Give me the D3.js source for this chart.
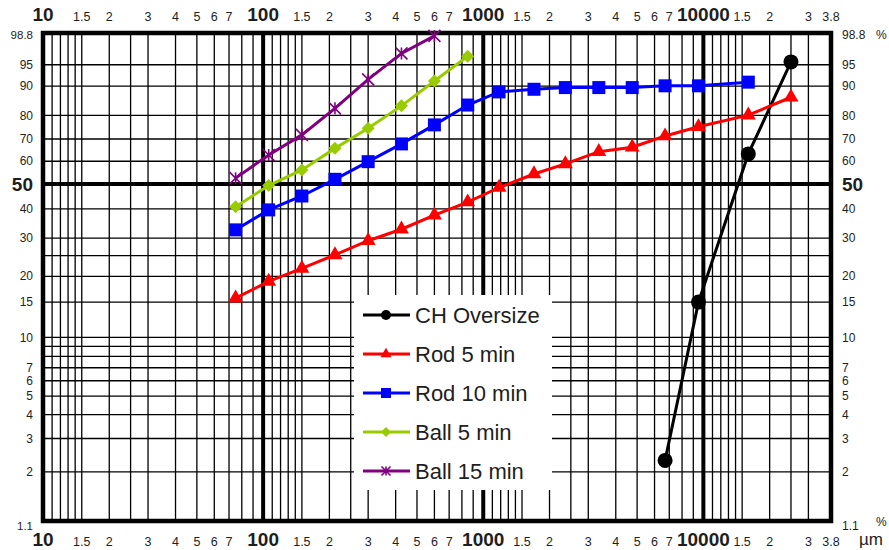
<!DOCTYPE html>
<html>
<head>
<meta charset="utf-8">
<script src="https://cdn.jsdelivr.net/npm/d3@7"></script>
<style>
body { margin: 0; background: #fff; }
text { font-family: "Liberation Sans", Arial, sans-serif; fill: #1e1e1e; }
</style>
</head>
<body>
<div class="chart"></div>
<script>
// Data (particle size in µm, cumulative passing in %)
const sieveSizes = [75, 106, 150, 212, 300, 425, 600, 850, 1180, 1700, 2360, 3350, 4750, 6700, 9500, 16000];

const chOversizeX = [6700, 9500, 16000, 25000];
const chOversize  = [2.3, 15.0, 63.3, 95.5];

const rod5X = sieveSizes.concat([25000]);
const rod5  = [15.7, 18.9, 21.8, 25.2, 29.2, 32.8, 37.7, 42.6, 48.5, 54.3, 58.8, 64.3, 66.3, 71.3, 75.3, 80.1, 86.6];

const rod10X = sieveSizes;
const rod10  = [32.6, 39.6, 45.0, 52.0, 59.8, 67.8, 76.1, 83.9, 88.3, 89.1, 89.6, 89.6, 89.6, 90.1, 90.1, 91.1];

const ball5X = sieveSizes.slice(0, 8);
const ball5  = [40.8, 49.3, 56.1, 65.8, 74.7, 83.6, 91.4, 96.4];

const ball15X = sieveSizes.slice(0, 7);
const ball15  = [52.5, 62.8, 71.8, 82.7, 91.8, 96.8, 98.6];

const seriesNames  = ["CH Oversize", "Rod 5 min", "Rod 10 min", "Ball 5 min", "Ball 15 min"];
const seriesColors = ["#000000", "#ff0000", "#0000ff", "#99cc00", "#800080"];
const seriesMarks  = ["circle", "triangle", "square", "diamond", "star"];

// axis ticks
const decades     = [10, 100, 1000, 10000];
const gridMults   = [1, 1.1, 1.2, 1.3, 1.4, 1.5, 2, 2.5, 3, 4, 5, 6, 7, 8, 9];
const labelMults  = [1, 1.5, 2, 3, 4, 5, 6, 7];
const xMin = 10, xMax = 38000;
const yGridVals   = [2, 3, 4, 5, 6, 7, 8, 9, 10, 15, 20, 25, 30, 40, 50, 60, 70, 80, 90, 95];
const yTickVals   = [1.1, 2, 3, 4, 5, 6, 7, 10, 15, 20, 30, 40, 50, 60, 70, 80, 90, 95, 98.8];
const yMin = 1.1, yMax = 98.8;

const W = 889, H = 550;
const plot = { left: 43, right: 831, top: 33, bottom: 521 };

const svg = d3.select(".chart").append("svg")
    .attr("width", W)
    .attr("height", H);

// RRSB scale: log x, ln(ln(1/(1-D))) y
const x = d3.scaleLog().domain([xMin, xMax]).range([plot.left, plot.right]);
const rr = p => Math.log(-Math.log(1 - p / 100));
const yLin = d3.scaleLinear().domain([rr(yMin), rr(yMax)]).range([plot.bottom, plot.top]);
const y = p => yLin(rr(p));

// grid
let xGrid = [];
decades.forEach(d => gridMults.forEach(m => {
    const v = d * m;
    if (v > xMin && v < xMax) xGrid.push(v);
}));

const grid = svg.append("g").attr("class", "grid");
grid.selectAll(".vx")
    .data(xGrid)
    .enter().append("line")
    .attr("x1", d => x(d)).attr("x2", d => x(d))
    .attr("y1", plot.top).attr("y2", plot.bottom)
    .attr("stroke", "#000")
    .attr("stroke-width", d => decades.includes(d) ? 4 : 1.3);

grid.selectAll(".hy")
    .data(yGridVals)
    .enter().append("line")
    .attr("x1", plot.left).attr("x2", plot.right)
    .attr("y1", d => y(d)).attr("y2", d => y(d))
    .attr("stroke", "#000")
    .attr("stroke-width", d => d === 50 ? 4 : 1.3);

svg.append("rect")
    .attr("x", plot.left).attr("y", plot.top)
    .attr("width", plot.right - plot.left)
    .attr("height", plot.bottom - plot.top)
    .attr("fill", "none")
    .attr("stroke", "#000")
    .attr("stroke-width", 4.5);

// x labels, top and bottom
let xTicks = [];
decades.forEach(d => labelMults.forEach(m => {
    const v = d * m;
    if (v <= xMax) xTicks.push({ v: v, label: m === 1 ? String(d) : String(m), big: m === 1 });
}));
xTicks.push({ v: xMax, label: "3.8", big: false });

[21, 546].forEach(yy => {
    svg.append("g").selectAll("text")
        .data(xTicks)
        .enter().append("text")
        .attr("x", d => x(d.v))
        .attr("y", yy)
        .attr("text-anchor", "middle")
        .style("font-size", d => d.big ? "19px" : "12.5px")
        .style("font-weight", d => d.big ? "bold" : "normal")
        .text(d => d.label);
});

// y labels, left and right
const yShift = d => d === 1.1 ? 5 : d === 98.8 ? 2 : 0;
svg.append("g").selectAll("text")
    .data(yTickVals)
    .enter().append("text")
    .attr("x", 33)
    .attr("y", d => y(d) + yShift(d))
    .attr("dy", "0.35em")
    .attr("text-anchor", "end")
    .style("font-size", d => d === 50 ? "19px" : (d === 1.1 || d === 98.8 ? "11.5px" : "12px"))
    .style("font-weight", d => d === 50 ? "bold" : "normal")
    .text(d => d);

svg.append("g").selectAll("text")
    .data(yTickVals)
    .enter().append("text")
    .attr("x", 842)
    .attr("y", d => y(d) + yShift(d))
    .attr("dy", "0.35em")
    .style("font-size", d => d === 50 ? "19px" : "12px")
    .style("font-weight", d => d === 50 ? "bold" : "normal")
    .text(d => d);

svg.append("text").attr("x", 876).attr("y", y(yMax) + 2).attr("dy", "0.35em")
    .style("font-size", "12px").text("%");
svg.append("text").attr("x", 876).attr("y", y(yMin) + 1).attr("dy", "0.35em")
    .style("font-size", "12px").text("%");
svg.append("text").attr("x", 859).attr("y", 545)
    .style("font-size", "17px").text("µm");

// markers
function markPath(kind, s) {
    if (kind === "circle") return d3.symbol(d3.symbolCircle, Math.PI * s * s / 4)();
    if (kind === "square") return d3.symbol(d3.symbolSquare, s * s)();
    if (kind === "triangle") return d3.symbol(d3.symbolTriangle, s * s * Math.sqrt(3) / 4)();
    const h = s / 2;
    if (kind === "diamond") return `M0,${-h}L${h},0L0,${h}L${-h},0Z`;
    return `M${-h},${-h}L${h},${h}M${-h},${h}L${h},${-h}M0,${-h}L0,${h}`;
}

const series = [
    { xs: chOversizeX, ys: chOversize },
    { xs: rod5X, ys: rod5 },
    { xs: rod10X, ys: rod10 },
    { xs: ball5X, ys: ball5 },
    { xs: ball15X, ys: ball15 }
].map((s, i) => ({
    name: seriesNames[i],
    color: seriesColors[i],
    mark: seriesMarks[i],
    points: s.xs.map((v, j) => ({ x: v, y: s.ys[j] }))
}));

const markSize = { circle: 15, triangle: 15, square: 13, diamond: 13, star: 12 };
const legendSize = { circle: 10, triangle: 11, square: 10, diamond: 10, star: 9 };

const line = d3.line().x(d => x(d.x)).y(d => y(d.y));

function drawMark(sel, kind, color, size) {
    sel.attr("d", markPath(kind, size))
        .attr("fill", kind === "star" ? "none" : color)
        .attr("stroke", color)
        .attr("stroke-width", kind === "star" ? 1.6 : 0);
}

const sg = svg.selectAll(".series")
    .data(series)
    .enter().append("g")
    .attr("class", "series");

sg.append("path")
    .attr("d", d => line(d.points))
    .attr("fill", "none")
    .attr("stroke", d => d.color)
    .attr("stroke-width", 3);

sg.each(function(s) {
    d3.select(this).selectAll(".pt")
        .data(s.points)
        .enter().append("path")
        .attr("class", "pt")
        .attr("transform", d => "translate(" + x(d.x) + "," + y(d.y) + ")")
        .call(drawMark, s.mark, s.color, markSize[s.mark]);
});

// legend
const lg = svg.append("g").attr("class", "legend");
lg.append("rect")
    .attr("x", 354).attr("y", 295)
    .attr("width", 198).attr("height", 195)
    .attr("fill", "#fff");

const item = lg.selectAll(".item")
    .data(series)
    .enter().append("g")
    .attr("transform", (d, i) => "translate(0," + (315 + i * 39) + ")");

item.append("line")
    .attr("x1", 363).attr("x2", 410)
    .attr("stroke", d => d.color)
    .attr("stroke-width", 3);

item.append("path")
    .attr("transform", "translate(386,0)")
    .each(function(d) { d3.select(this).call(drawMark, d.mark, d.color, legendSize[d.mark]); });

item.append("text")
    .attr("x", 415)
    .attr("dy", "0.36em")
    .style("font-size", "22px")
    .text(d => d.name);
</script>
</body>
</html>
